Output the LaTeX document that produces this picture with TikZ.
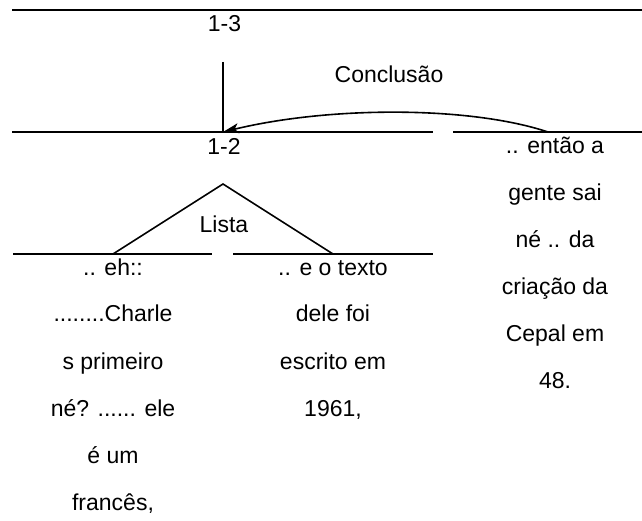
\documentclass[tikz,border=0pt]{standalone}
\usepackage{fontspec}
\setmainfont{Liberation Sans}
\usetikzlibrary{arrows.meta}
\begin{document}
\begin{tikzpicture}[x=1pt,y=-1pt,
  ln/.style={line width=1.6pt},
  lbl/.style={anchor=base,inner sep=0pt,font=\fontsize{23}{47}\selectfont},
  col/.style={anchor=base,inner sep=0pt,font=\fontsize{23}{47}\selectfont}]
\useasboundingbox (0,0) rectangle (642,521);
% horizontal levels
\draw[ln] (12,10) -- (642,10);
\draw[ln] (12,132) -- (433,132);
\draw[ln] (453,132) -- (642,132);
\draw[ln] (13,254) -- (212,254);
\draw[ln] (233,254) -- (433,254);
% coordinates
\coordinate (vtop) at (223,62);
\coordinate (vbot) at (223,132);
\coordinate (arrS) at (548,132);
\coordinate (apex) at (223,184);
\coordinate (footL) at (113,254);
\coordinate (footR) at (333,254);
% vertical and triangle
\draw[ln] (vtop) -- (vbot);
\draw[ln] (footL) -- (apex) -- (footR);
% arrow
\draw[ln,-{Stealth[length=16pt,width=10pt,inset=4pt]}] (arrS) .. controls (470,106) and (330,106) .. (vbot);
% labels
\node[lbl] (t13) at (224.5,32) {1-3};
\node[lbl] (t12) at (224,155) {1-2};
\node[lbl] (concl) at (389,83) {Conclusão};
\node[lbl] (lista) at (224,233) {Lista};
% columns
\node[col] (colA) at (113,275) {\begin{tabular}[t]{@{}c@{}}.. eh::\\........Charle\\s primeiro\\né? ...... ele\\é um\\francês,\end{tabular}};
\node[col] (colB) at (333,275) {\begin{tabular}[t]{@{}c@{}}.. e o texto\\dele foi\\escrito em\\1961,\end{tabular}};
\node[col] (colC) at (555,154) {\begin{tabular}[t]{@{}c@{}}.. então a\\gente sai\\né .. da\\criação da\\Cepal em\\48.\end{tabular}};
\end{tikzpicture}
\end{document}
